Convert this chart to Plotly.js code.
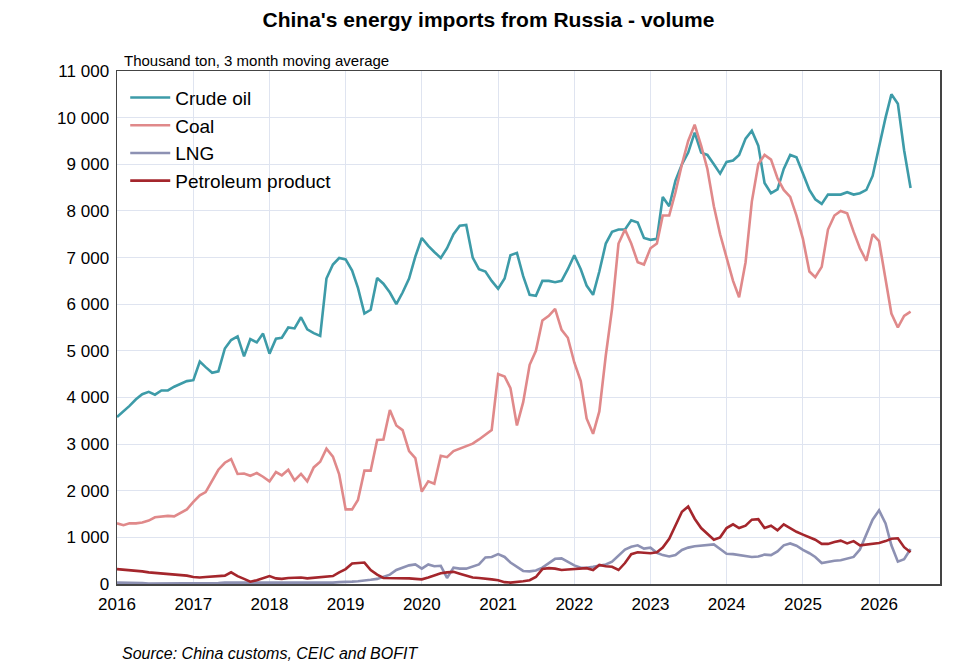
<!DOCTYPE html>
<html>
<head>
<meta charset="utf-8">
<script src="https://cdn.plot.ly/plotly-3.0.1.min.js"></script>
<style>
  html, body { margin: 0; padding: 0; background: #fff; }
  #chart { width: 977px; height: 665px; }
</style>
</head>
<body>
<div id="chart"></div>
<script>
/* China's energy imports from Russia, monthly from Jan 2016, thousand ton (3m MA) */
const START_YEAR = 2016;

const crudeOil = [
  3580,3700,3820,3960,4070,4120,4060,4150,4150,4230,4300,4350,
  4370,4770,4650,4530,4560,5050,5230,5310,4880,5250,5180,5370,
  4940,5260,5280,5500,5480,5720,5460,5380,5320,6550,6850,6990,
  6960,6720,6350,5800,5880,6560,6440,6250,6000,6250,6550,7020,
  7420,7250,7120,6990,7200,7500,7680,7700,7000,6750,6700,6500,
  6330,6550,7050,7100,6600,6200,6180,6500,6500,6470,6500,6750,
  7050,6750,6400,6200,6700,7300,7550,7600,7600,7800,7750,7420,
  7380,7400,8300,8100,8650,9000,9250,9680,9250,9200,9000,8800,
  9050,9080,9200,9550,9720,9400,8600,8380,8460,8900,9200,9150,
  8800,8450,8250,8150,8350,8350,8350,8400,8350,8380,8450,8750,
  9400,10000,10500,10300,9300,8490
];
const coal = [
  1300,1260,1300,1300,1320,1360,1430,1450,1460,1450,1520,1600,
  1760,1900,1970,2200,2450,2600,2680,2360,2370,2320,2380,2300,
  2200,2400,2330,2450,2220,2360,2200,2500,2620,2900,2730,2350,
  1600,1600,1800,2430,2430,3090,3100,3730,3400,3300,2850,2700,
  1980,2200,2150,2750,2720,2850,2900,2950,3010,3100,3200,3300,
  4500,4450,4200,3400,3900,4700,5000,5650,5750,5900,5450,5280,
  4750,4350,3550,3220,3700,4900,5900,7300,7600,7300,6900,6850,
  7200,7300,7900,7900,8400,9000,9500,9850,9400,8900,8100,7500,
  7000,6500,6150,6900,8200,9000,9200,9100,8700,8450,8300,7900,
  7400,6700,6580,6800,7600,7900,8000,7950,7550,7200,6930,7500,
  7350,6500,5800,5500,5750,5840
];
const lng = [
  30,30,20,20,20,10,10,10,10,20,20,20,
  20,20,20,20,20,30,30,20,20,20,20,20,
  20,20,20,30,30,20,20,20,30,30,30,40,
  40,50,60,70,90,110,150,200,300,350,400,420,
  330,420,380,390,130,350,330,330,380,420,570,580,
  640,580,460,360,280,270,290,350,450,540,550,480,
  400,350,350,370,400,420,480,600,740,800,830,760,
  780,670,620,590,620,730,780,810,820,830,850,750,
  650,640,620,590,580,590,630,620,700,830,870,820,
  730,660,580,450,480,500,510,540,580,740,1050,1380,
  1580,1300,830,480,530,750
];
const petroleum = [
  320,310,300,290,270,250,240,220,210,200,200,180,
  150,140,150,160,170,180,250,170,110,50,80,130,
  170,120,110,130,140,140,120,130,140,150,170,250,
  320,440,450,460,300,200,130,130,130,130,120,110,
  100,140,180,230,250,260,220,180,140,130,120,100,
  80,40,30,40,60,80,150,320,340,330,300,310,
  320,330,340,300,410,380,370,300,450,640,680,670,
  660,680,780,970,1250,1550,1660,1400,1200,1080,950,1000,
  1200,1280,1200,1250,1380,1390,1200,1250,1150,1280,1200,1120,
  1060,1000,950,860,860,900,930,870,920,830,850,860,
  880,920,970,980,790,680
];

const months = crudeOil.map((_, i) => {
  const y = START_YEAR + Math.floor(i / 12), m = (i % 12) + 1;
  return `${y}-${String(m).padStart(2, '0')}-01`;
});

const series = [
  { name: 'Crude oil',         y: crudeOil,  color: '#3d9ba8' },
  { name: 'Coal',              y: coal,      color: '#e0898a' },
  { name: 'LNG',               y: lng,       color: '#8d91b3' },
  { name: 'Petroleum product', y: petroleum, color: '#a4262c' }
];

const traces = series.map(s => ({
  x: months, y: s.y, name: s.name, type: 'scatter', mode: 'lines',
  line: { color: s.color, width: 2.6 }
}));

const FONT = 'Liberation Sans, Arial, sans-serif';
const grid = '#dfe4f0';

const layout = {
  width: 977, height: 665,
  font: { family: FONT, size: 17, color: '#000' },
  paper_bgcolor: '#fff', plot_bgcolor: '#fff',
  margin: { l: 117, r: 37, t: 71, b: 81 },
  separators: '. ',
  title: { text: "<b>China's energy imports from Russia - volume</b>",
           x: 0.5, xanchor: 'center', y: 0.97, yanchor: 'middle', font: { size: 21 } },
  showlegend: true,
  legend: { x: 0.01, y: 0.985, xanchor: 'left', yanchor: 'top', bgcolor: 'rgba(255,255,255,0)',
            font: { size: 19 }, tracegroupgap: 0, itemwidth: 40 },
  xaxis: {
    type: 'date', range: ['2016-01-01', '2026-10-20'],
    dtick: 'M12', tick0: '2016-01-01', tickformat: '%Y',
    showgrid: true, gridcolor: grid, gridwidth: 1,
    showline: true, linecolor: '#444', linewidth: 1.5, mirror: true,
    ticks: 'outside', ticklen: 4, tickcolor: 'rgba(0,0,0,0)', tickfont: { size: 17 }
  },
  yaxis: {
    range: [0, 11000], dtick: 1000, tickformat: ',d',
    showgrid: true, gridcolor: grid, gridwidth: 1,
    showline: true, linecolor: '#444', linewidth: 1.5, mirror: true,
    ticks: 'outside', ticklen: 3, tickcolor: 'rgba(0,0,0,0)', tickfont: { size: 17 }, zeroline: false
  },
  annotations: [
    { text: 'Thousand ton, 3 month moving average', xref: 'paper', yref: 'paper',
      x: 0.006, y: 1.0, xanchor: 'left', yanchor: 'bottom', showarrow: false,
      font: { size: 15 } },
    { text: '<i>Source: China customs, CEIC and BOFIT</i>', xref: 'paper', yref: 'paper',
      x: 0.004, y: -0.136, xanchor: 'left', yanchor: 'middle', showarrow: false,
      font: { size: 16 } }
  ]
};

Plotly.newPlot('chart', traces, layout, { displayModeBar: false, staticPlot: true });
</script>
</body>
</html>
